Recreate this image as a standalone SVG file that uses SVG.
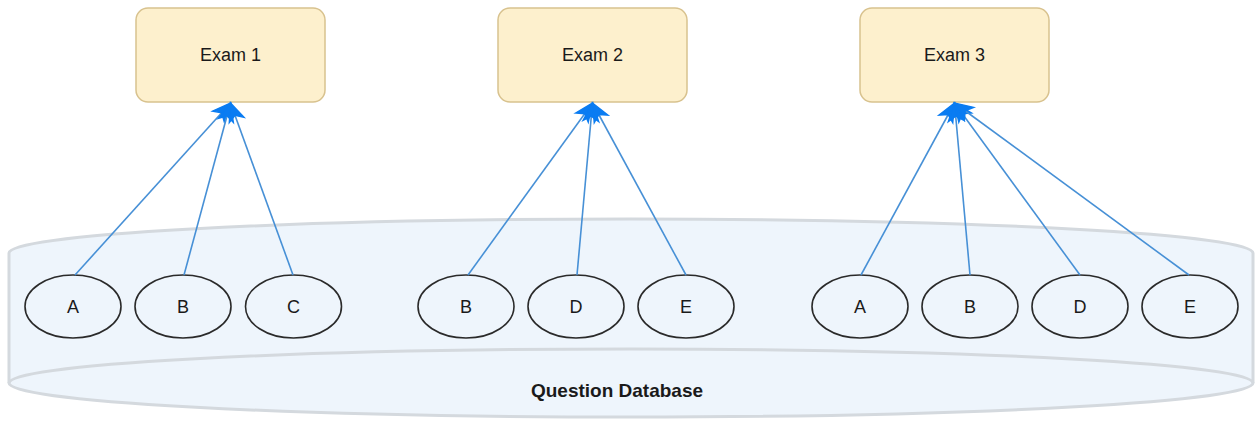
<svg xmlns="http://www.w3.org/2000/svg" width="1259" height="423" viewBox="0 0 1259 423">
  <defs>
    <marker id="arrow" markerUnits="userSpaceOnUse" markerWidth="24" markerHeight="24" viewBox="-2 -8 20 16" refX="15" refY="0" orient="auto">
      <path d="M0,-6.5 L15,0 L0,6.5 L4,0 Z" fill="#0a7cf2" stroke="#0a7cf2" stroke-width="1.2"/>
    </marker>
  </defs>
  <style>
    .db { fill: #eef5fc; stroke: #d4d9de; stroke-width: 3; }
    .dbline { fill: none; stroke: #d4d9de; stroke-width: 3; }
    .exam { fill: #fdf0cd; stroke: #d8c28e; stroke-width: 1.5; }
    .q { fill: none; stroke: #2a2a2a; stroke-width: 1.6; }
    .lbl { font-family: "Liberation Sans", Arial, sans-serif; font-size: 18px; fill: #1a1a1a; text-anchor: middle; }
    .bold { font-weight: bold; font-size: 19px; }
    .edge { fill: none; stroke: #4790d6; stroke-width: 1.6; marker-end: url(#arrow); }
  </style>
  <rect width="1259" height="423" fill="#ffffff"/>

  <!-- Question database container -->
  <g id="database">
    <path class="db" d="M9,253 A622,34 0 0 1 1253,253 L1253,383 A622,34 0 0 1 9,383 Z"/>
    <path class="dbline" d="M9,383 A622,34 0 0 1 1253,383"/>
    <text class="lbl bold" x="617" y="397">Question Database</text>
  </g>

  <!-- Exams -->
  <g id="exam1">
    <rect class="exam" x="136" y="8" width="189" height="94" rx="12"/>
    <text class="lbl" x="230.5" y="61">Exam 1</text>
  </g>
  <g id="exam2">
    <rect class="exam" x="498" y="8" width="189" height="94" rx="12"/>
    <text class="lbl" x="592.5" y="61">Exam 2</text>
  </g>
  <g id="exam3">
    <rect class="exam" x="860" y="8" width="189" height="94" rx="12"/>
    <text class="lbl" x="954.5" y="61">Exam 3</text>
  </g>

  <!-- Questions -->
  <g id="q1-a"><ellipse class="q" cx="73" cy="306.5" rx="48" ry="31.5"/><text class="lbl" x="73" y="313">A</text></g>
  <g id="q1-b"><ellipse class="q" cx="183" cy="306.5" rx="48" ry="31.5"/><text class="lbl" x="183" y="313">B</text></g>
  <g id="q1-c"><ellipse class="q" cx="293.5" cy="306.5" rx="48" ry="31.5"/><text class="lbl" x="293.5" y="313">C</text></g>

  <g id="q2-b"><ellipse class="q" cx="466" cy="306.5" rx="48" ry="31.5"/><text class="lbl" x="466" y="313">B</text></g>
  <g id="q2-d"><ellipse class="q" cx="576" cy="306.5" rx="48" ry="31.5"/><text class="lbl" x="576" y="313">D</text></g>
  <g id="q2-e"><ellipse class="q" cx="686" cy="306.5" rx="48" ry="31.5"/><text class="lbl" x="686" y="313">E</text></g>

  <g id="q3-a"><ellipse class="q" cx="860" cy="306.5" rx="48" ry="31.5"/><text class="lbl" x="860" y="313">A</text></g>
  <g id="q3-b"><ellipse class="q" cx="970" cy="306.5" rx="48" ry="31.5"/><text class="lbl" x="970" y="313">B</text></g>
  <g id="q3-d"><ellipse class="q" cx="1080" cy="306.5" rx="48" ry="31.5"/><text class="lbl" x="1080" y="313">D</text></g>
  <g id="q3-e"><ellipse class="q" cx="1190" cy="306.5" rx="48" ry="31.5"/><text class="lbl" x="1190" y="313">E</text></g>

  <!-- Connectors: question -> exam -->
  <g id="connectors">
    <line class="edge" x1="75" y1="275" x2="230.5" y2="103"/>
    <line class="edge" x1="184" y1="275" x2="230.5" y2="103"/>
    <line class="edge" x1="293" y1="275" x2="230.5" y2="103"/>

    <line class="edge" x1="468" y1="275" x2="592.5" y2="103"/>
    <line class="edge" x1="577" y1="275" x2="592.5" y2="103"/>
    <line class="edge" x1="686" y1="275" x2="592.5" y2="103"/>

    <line class="edge" x1="861" y1="275" x2="954.5" y2="103"/>
    <line class="edge" x1="970" y1="275" x2="954.5" y2="103"/>
    <line class="edge" x1="1080" y1="275" x2="954.5" y2="103"/>
    <line class="edge" x1="1189" y1="275" x2="954.5" y2="103"/>
  </g>
</svg>
